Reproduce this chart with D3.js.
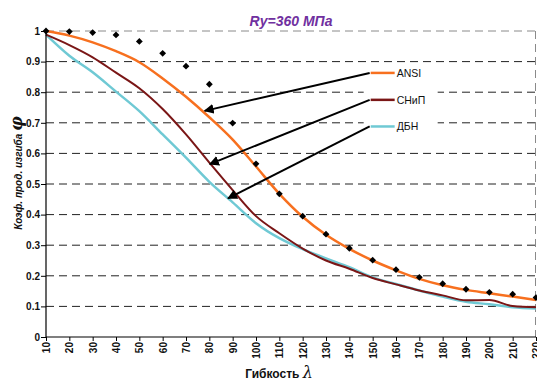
<!DOCTYPE html>
<html>
<head>
<meta charset="utf-8">
<script src="https://cdn.jsdelivr.net/npm/d3@7"></script>
<style>
  body { margin: 0; background: #fff; }
  svg { display: block; font-family: Arial, "Liberation Sans", sans-serif; }
</style>
</head>
<body>
<svg id="chart" width="537" height="381"></svg>
<script>
// slenderness values (x categories)
var lambdas = [10, 20, 30, 40, 50, 60, 70, 80, 90, 100, 110, 120, 130, 140, 150, 160, 170, 180, 190, 200, 210, 220];

// buckling coefficient series
var dotsPhi = [1.0, 0.998, 0.995, 0.987, 0.966, 0.927, 0.885, 0.826, 0.699, 0.566, 0.468, 0.395, 0.336, 0.290, 0.251, 0.220, 0.195, 0.174, 0.156, 0.146, 0.140, 0.129];
var ansiPhi = [1.0, 0.985, 0.963, 0.934, 0.898, 0.845, 0.785, 0.718, 0.645, 0.557, 0.468, 0.393, 0.334, 0.288, 0.250, 0.218, 0.190, 0.169, 0.154, 0.143, 0.132, 0.121];
var snipPhi = [0.988, 0.954, 0.914, 0.864, 0.813, 0.745, 0.662, 0.570, 0.480, 0.395, 0.339, 0.289, 0.250, 0.223, 0.193, 0.172, 0.152, 0.136, 0.120, 0.121, 0.101, 0.097];
var dbnPhi  = [0.988, 0.919, 0.865, 0.802, 0.738, 0.662, 0.586, 0.507, 0.440, 0.372, 0.323, 0.287, 0.257, 0.228, 0.195, 0.173, 0.152, 0.132, 0.115, 0.107, 0.097, 0.093];

var yTicks = [0, 0.1, 0.2, 0.3, 0.4, 0.5, 0.6, 0.7, 0.8, 0.9, 1];

var seriesNames = ["ANSI", "СНиП", "ДБН"];
var seriesColors = ["#f7701f", "#7a1616", "#6fc9d4"];
// legend anchor points (lambda, phi) and where each arrow points on its curve
var legendPhi = [0.863, 0.775, 0.688];
var arrowTips = [[78, 0.739], [80.2, 0.565], [88, 0.453]];

var svg = d3.select("#chart"),
    margin = {top: 31, right: 1, bottom: 44, left: 46},
    width = +svg.attr("width") - margin.left - margin.right,
    height = +svg.attr("height") - margin.top - margin.bottom;

var x = d3.scaleLinear().domain([10, 220]).range([margin.left, margin.left + width]);
var y = d3.scaleLinear().domain([0, 1]).range([margin.top + height, margin.top]);

// gridlines
svg.append("g")
  .selectAll("line")
  .data(yTicks.filter(function(d) { return d > 0; }))
  .enter().append("line")
    .attr("x1", x(10)).attr("x2", x(220))
    .attr("y1", function(d) { return y(d); })
    .attr("y2", function(d) { return y(d); })
    .attr("stroke", function(d) { return d === 1 ? "#8a8a8a" : "#222"; })
    .attr("stroke-width", 1)
    .attr("stroke-dasharray", "8,5");

// right border
svg.append("line")
  .attr("x1", x(220) - 0.5).attr("x2", x(220) - 0.5)
  .attr("y1", y(1)).attr("y2", y(0))
  .attr("stroke", "#8a8a8a")
  .attr("stroke-dasharray", "8,5");

// legend background (hides gridlines)
svg.append("rect")
  .attr("x", x(150) - 9).attr("y", y(legendPhi[0]) - 9)
  .attr("width", 74).attr("height", y(legendPhi[2]) - y(legendPhi[0]) + 18)
  .attr("fill", "#fff");

// series lines
var line = d3.line()
  .x(function(d, i) { return x(lambdas[i]); })
  .y(function(d) { return y(d); })
  .curve(d3.curveMonotoneX);

var allSeries = [ansiPhi, snipPhi, dbnPhi];
// draw ДБН first so СНиП sits on top like the original
[2, 1, 0].forEach(function(k) {
  svg.append("path")
    .datum(allSeries[k])
    .attr("fill", "none")
    .attr("stroke", seriesColors[k])
    .attr("stroke-width", k === 1 ? 2 : 2.5)
    .attr("stroke-linejoin", "round")
    .attr("d", line);
});

// dots (diamonds)
svg.append("g")
  .selectAll("rect")
  .data(dotsPhi)
  .enter().append("rect")
    .attr("x", -2.4).attr("y", -2.4)
    .attr("width", 4.8).attr("height", 4.8)
    .attr("fill", "#000")
    .attr("transform", function(d, i) {
      return "translate(" + x(lambdas[i]) + "," + y(d) + ") rotate(45)";
    });

// arrows
svg.append("defs").append("marker")
  .attr("id", "arrow")
  .attr("viewBox", "0 0 10 10")
  .attr("refX", 9).attr("refY", 5)
  .attr("markerWidth", 5).attr("markerHeight", 5)
  .attr("orient", "auto")
  .append("path")
    .attr("d", "M0,0 L10,5 L0,10 Z")
    .attr("fill", "#000");

svg.append("g")
  .selectAll("line")
  .data(arrowTips)
  .enter().append("line")
    .attr("x1", x(150) - 3)
    .attr("y1", function(d, i) { return y(legendPhi[i]); })
    .attr("x2", function(d) { return x(d[0]); })
    .attr("y2", function(d) { return y(d[1]); })
    .attr("stroke", "#000")
    .attr("stroke-width", 2)
    .attr("marker-end", "url(#arrow)");

// legend
var legend = svg.append("g")
  .selectAll("g")
  .data(seriesNames)
  .enter().append("g")
    .attr("transform", function(d, i) { return "translate(" + (x(150) - 2) + "," + y(legendPhi[i]) + ")"; });

legend.append("line")
  .attr("x1", 0).attr("x2", 24)
  .attr("stroke", function(d, i) { return seriesColors[i]; })
  .attr("stroke-width", 2.5);

legend.append("text")
  .attr("x", 26).attr("y", 4)
  .attr("font-size", 10.5)
  .attr("fill", "#111")
  .text(function(d) { return d; });

// axes
var yAxis = d3.axisLeft(y).tickValues(yTicks).tickSize(5).tickFormat(d3.format("~g"));
var gy = svg.append("g")
  .attr("transform", "translate(" + margin.left + ",0)")
  .call(yAxis);
gy.select(".domain").attr("stroke", "#000").attr("stroke-width", 1.2).attr("d", "M0," + y(1) + "V" + y(0));
gy.selectAll("text").attr("font-size", 10).attr("font-weight", "bold").attr("fill", "#111").attr("x", -6);

var xAxis = d3.axisBottom(x).tickValues(lambdas).tickSize(4);
var gx = svg.append("g")
  .attr("transform", "translate(0," + y(0) + ")")
  .call(xAxis);
gx.select(".domain").attr("stroke", "#000").attr("stroke-width", 1.2).attr("d", "M" + x(10) + ",0H" + x(220));
gx.selectAll("text")
  .attr("font-size", 10).attr("font-weight", "bold").attr("fill", "#111")
  .attr("transform", "rotate(-90)")
  .attr("text-anchor", "end")
  .attr("x", -5).attr("y", 0).attr("dy", "0.35em");

// title
svg.append("text")
  .attr("x", 291).attr("y", 26)
  .attr("text-anchor", "middle")
  .attr("font-size", 14).attr("font-weight", "bold").attr("font-style", "italic")
  .attr("fill", "#7030a0")
  .text("Ry=360 МПа");

// axis titles
var yTitle = svg.append("text")
  .attr("transform", "translate(22,173) rotate(-90)")
  .attr("text-anchor", "middle")
  .attr("font-size", 10).attr("font-weight", "bold").attr("font-style", "italic")
  .attr("fill", "#111");
yTitle.append("tspan").text("Коэф. прод. изгиба ");
yTitle.append("tspan").attr("font-size", 16).attr("font-family", "'DejaVu Serif', serif").text("φ");

var xTitle = svg.append("text")
  .attr("x", 279).attr("y", 378)
  .attr("text-anchor", "middle")
  .attr("font-size", 12).attr("font-weight", "bold")
  .attr("fill", "#111");
xTitle.append("tspan").text("Гибкость ");
xTitle.append("tspan").attr("font-size", 16).attr("font-style", "italic").attr("font-weight", "normal")
  .attr("font-family", "'DejaVu Serif', serif").text("λ");
</script>
</body>
</html>
